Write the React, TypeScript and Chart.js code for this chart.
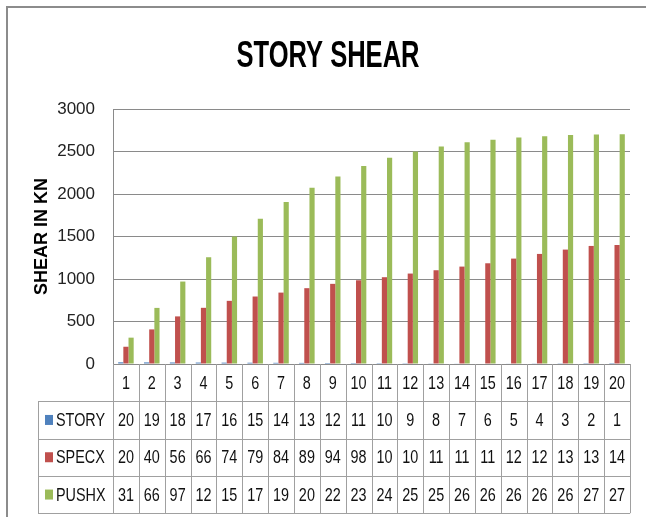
import React, { useEffect, useRef } from "react";
import { Chart, registerables } from "chart.js";

Chart.register(...registerables);

const categories = ["1","2","3","4","5","6","7","8","9","10","11","12","13","14","15","16","17","18","19","20"];
const storyValues = [20,19,18,17,16,15,14,13,12,11,10,9,8,7,6,5,4,3,2,1];
const specxValues = [203,407,560,661,743,794,840,892,943,985,1021,1064,1103,1146,1185,1240,1295,1346,1389,1400];
const pushxValues = [310,660,970,1256,1500,1710,1905,2074,2207,2328,2426,2500,2559,2610,2637,2664,2680,2695,2700,2703];
const seriesNames = ["STORY", "SPECX", "PUSHX"];
const seriesColors = ["#4F81BD", "#C0504D", "#9BBB59"];
const yTicks = [0, 500, 1000, 1500, 2000, 2500, 3000];
const chartTitle = "STORY SHEAR";
const yTitle = "SHEAR IN KN";

const SANS = '"Liberation Sans", Arial, sans-serif';

function squashText(ctx: any, text: string, x: number, y: number, align: string, sx: number) {
  ctx.save();
  ctx.translate(x, y);
  ctx.scale(sx, 1);
  ctx.textAlign = align;
  ctx.fillText(text, 0, 0);
  ctx.restore();
}

const tablePlugin = {
  id: "dataTable",
  beforeDraw(chart: any) {
    const { ctx, width, height } = chart;
    ctx.save();
    ctx.fillStyle = "#ffffff";
    ctx.fillRect(0, 0, width, height);
    ctx.strokeStyle = "#8c8c8c";
    ctx.lineWidth = 2;
    ctx.beginPath();
    ctx.moveTo(7, height + 2);
    ctx.lineTo(7, 7);
    ctx.lineTo(width + 2, 7);
    ctx.stroke();
    ctx.fillStyle = "#000000";
    ctx.font = "bold 37px " + SANS;
    ctx.textBaseline = "alphabetic";
    squashText(ctx, chartTitle, 328, 67, "center", 0.69);
    ctx.restore();
  },
  afterDraw(chart: any) {
    const { ctx, chartArea } = chart;
    const xs = chart.scales.x;
    const n = categories.length;
    const left = chartArea.left;
    const right = chartArea.right;
    const cw = (right - left) / n;
    const top = chartArea.bottom;
    const rowH = 37.3;
    const tableLeft = 38;
    const bottom = top + rowH * 4;
    ctx.save();
    ctx.strokeStyle = "#a0a0a0";
    ctx.lineWidth = 1;
    ctx.beginPath();
    for (let k = 1; k <= 4; k++) {
      const y = Math.round(top + rowH * k) + 0.5;
      ctx.moveTo(tableLeft, y);
      ctx.lineTo(right, y);
    }
    for (let j = 0; j <= n; j++) {
      const x = Math.round(left + cw * j) + 0.5;
      ctx.moveTo(x, top);
      ctx.lineTo(x, bottom);
    }
    ctx.moveTo(tableLeft + 0.5, top + rowH);
    ctx.lineTo(tableLeft + 0.5, bottom);
    ctx.stroke();

    ctx.fillStyle = "#111111";
    ctx.font = "18px " + SANS;
    ctx.textBaseline = "middle";
    categories.forEach((c, i) => {
      squashText(ctx, c, xs.getPixelForValue(i), top + rowH * 0.5 + 1, "center", 0.8);
    });
    const rows = [storyValues, specxValues, pushxValues];
    rows.forEach((vals, r) => {
      const yc = top + rowH * (r + 1.5) + 1;
      ctx.fillStyle = "#111111";
      vals.forEach((v, i) => {
        squashText(ctx, String(v).slice(0, 2), xs.getPixelForValue(i), yc, "center", 0.8);
      });
      ctx.fillStyle = seriesColors[r];
      ctx.fillRect(45, yc - 6, 8, 10);
      ctx.fillStyle = "#111111";
      squashText(ctx, seriesNames[r], 56, yc, "left", 0.8);
    });
    ctx.restore();
  },
};

export default function App() {
  const ref = useRef<HTMLCanvasElement | null>(null);
  useEffect(() => {
    if (!ref.current) return;
    const chart = new Chart(ref.current, {
      type: "bar",
      data: {
        labels: categories,
        datasets: [
          { label: seriesNames[0], data: storyValues, backgroundColor: seriesColors[0] },
          { label: seriesNames[1], data: specxValues, backgroundColor: seriesColors[1] },
          { label: seriesNames[2], data: pushxValues, backgroundColor: seriesColors[2] },
        ],
      },
      options: {
        responsive: false,
        animation: false,
        datasets: { bar: { categoryPercentage: 0.6, barPercentage: 1 } },
        layout: { padding: { left: 0, right: 16, top: 109, bottom: 153 } },
        plugins: {
          legend: { display: false },
          tooltip: { enabled: false },
          title: { display: false },
        },
        scales: {
          x: {
            ticks: { display: false },
            grid: { display: false, drawTicks: false },
            border: { display: false },
            afterFit: (s: any) => { s.height = 0; },
          },
          y: {
            min: 0,
            max: 3000,
            afterBuildTicks: (s: any) => { s.ticks = yTicks.map((v) => ({ value: v })); },
            ticks: {
              padding: 18,
              color: "#222222",
              font: { family: SANS, size: 17 },
              callback: (v: any) => String(v),
            },
            grid: { color: "#8a8a8a", lineWidth: 1, drawTicks: false },
            border: { display: true, color: "#8a8a8a" },
            title: {
              display: true,
              text: yTitle,
              color: "#000000",
              font: { family: SANS, size: 18, weight: "bold" },
              padding: { top: 31, bottom: 0 },
            },
            afterFit: (s: any) => { s.width = 113; },
          },
        },
      },
      plugins: [tablePlugin],
    });
    return () => chart.destroy();
  }, []);
  return (
    <div style={{ position: "fixed", left: 0, top: 0, width: 646, height: 517, background: "#fff" }}>
      <canvas ref={ref} width={646} height={517} style={{ display: "block" }} />
    </div>
  );
}
